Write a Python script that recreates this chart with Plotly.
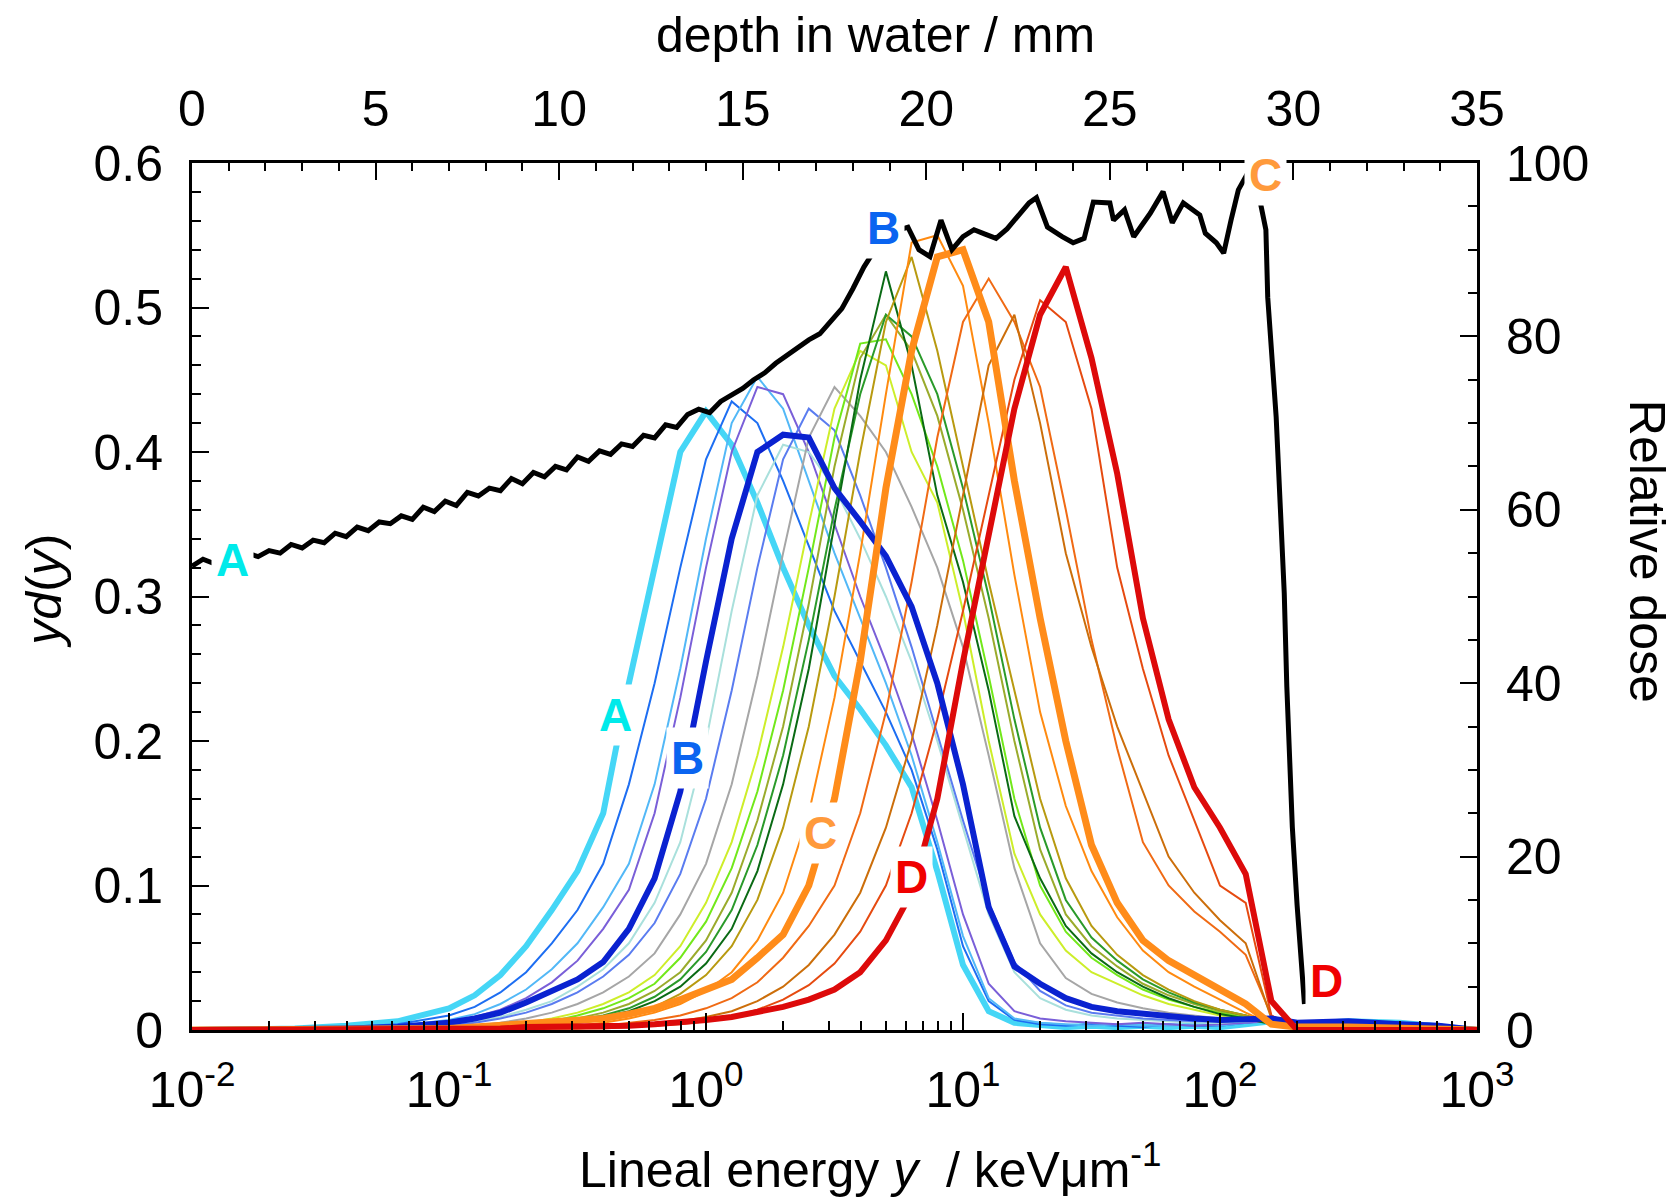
import math
import plotly.graph_objects as go

# ---------------- data ----------------
# lineal energy grid, log10(y / keV um^-1)
LOG_Y = [-2.0, -1.6, -1.4, -1.2,
         -1.0, -0.9, -0.8, -0.7, -0.6, -0.5, -0.4, -0.3, -0.2, -0.1, 0.0, 0.1, 0.2,
         0.3, 0.4, 0.5, 0.6, 0.7, 0.8, 0.9, 1.0, 1.1, 1.2, 1.3, 1.4, 1.5, 1.6, 1.7,
         1.8, 1.9, 2.0, 2.1, 2.2,
         2.3, 2.5, 2.7, 2.85, 3.0]

S_A = [0, 0.001, 0.003, 0.006,
       0.015, 0.024, 0.038, 0.058, 0.083, 0.11, 0.15, 0.24, 0.32, 0.40, 0.428, 0.405, 0.365,
       0.32, 0.28, 0.245, 0.222, 0.197, 0.168, 0.11, 0.045, 0.013, 0.005, 0.003, 0.002, 0.003, 0.002, 0.003,
       0.002, 0.003, 0.002, 0.004, 0.006,
       0.004, 0.006, 0.005, 0.003, 0]
S_02 = [0, 0.001, 0.002, 0.004,
        0.01, 0.016, 0.026, 0.04, 0.06, 0.083, 0.115, 0.17, 0.24, 0.32, 0.395, 0.435, 0.42,
        0.38, 0.335, 0.29, 0.255, 0.22, 0.18, 0.125, 0.058, 0.02, 0.007, 0.004, 0.003, 0.004, 0.003, 0.002,
        0.004, 0.003, 0.003, 0.005, 0.007,
        0.005, 0.006, 0.004, 0.003, 0]
S_03 = [0, 0.001, 0.002, 0.003,
        0.007, 0.011, 0.018, 0.028, 0.042, 0.06, 0.085, 0.115, 0.17, 0.25, 0.34, 0.42, 0.452,
        0.43, 0.38, 0.33, 0.285, 0.24, 0.19, 0.13, 0.065, 0.022, 0.008, 0.005, 0.004, 0.003, 0.004, 0.003,
        0.003, 0.004, 0.003, 0.005, 0.008,
        0.005, 0.007, 0.005, 0.004, 0]
S_04 = [0, 0.001, 0.002, 0.003,
        0.006, 0.009, 0.014, 0.022, 0.033, 0.048, 0.07, 0.097, 0.15, 0.23, 0.32, 0.40, 0.445,
        0.44, 0.40, 0.35, 0.30, 0.255, 0.205, 0.145, 0.08, 0.032, 0.013, 0.008, 0.006, 0.005, 0.004, 0.005,
        0.004, 0.003, 0.004, 0.005, 0.006,
        0.004, 0.005, 0.004, 0.003, 0]
S_B = [0, 0.0, 0.001, 0.002,
       0.005, 0.008, 0.012, 0.019, 0.027, 0.035, 0.047, 0.07, 0.105, 0.165, 0.255, 0.34, 0.40,
       0.412, 0.41, 0.375, 0.352, 0.328, 0.293, 0.24, 0.17, 0.085, 0.044, 0.032, 0.022, 0.016, 0.013, 0.011,
       0.009, 0.008, 0.007, 0.007, 0.008,
       0.005, 0.006, 0.004, 0.003, 0]
S_06 = [0, 0.0, 0.001, 0.002,
        0.004, 0.006, 0.009, 0.014, 0.02, 0.03, 0.042, 0.06, 0.088, 0.13, 0.2, 0.29, 0.37,
        0.405, 0.40, 0.375, 0.34, 0.30, 0.255, 0.2, 0.14, 0.08, 0.04, 0.022, 0.014, 0.01, 0.008, 0.007,
        0.006, 0.005, 0.005, 0.006, 0.007,
        0.004, 0.005, 0.004, 0.003, 0]
S_07 = [0, 0.0, 0.001, 0.002,
        0.003, 0.005, 0.008, 0.012, 0.018, 0.026, 0.037, 0.052, 0.074, 0.108, 0.16, 0.235, 0.32,
        0.395, 0.43, 0.415, 0.37, 0.32, 0.265, 0.205, 0.145, 0.088, 0.047, 0.027, 0.017, 0.012, 0.01, 0.008,
        0.007, 0.006, 0.006, 0.007, 0.008,
        0.005, 0.007, 0.005, 0.004, 0]
S_08 = [0, 0.0, 0.001, 0.001,
        0.002, 0.003, 0.005, 0.008, 0.012, 0.018, 0.026, 0.037, 0.053, 0.08, 0.115, 0.17, 0.245,
        0.33, 0.41, 0.445, 0.425, 0.40, 0.362, 0.32, 0.265, 0.19, 0.112, 0.06, 0.036, 0.025, 0.019, 0.015,
        0.012, 0.01, 0.008, 0.007, 0.006,
        0.004, 0.006, 0.004, 0.003, 0]
S_10 = [0, 0.0, 0.0, 0.001,
        0.001, 0.002, 0.003, 0.005, 0.008, 0.012, 0.018, 0.026, 0.038, 0.058, 0.088, 0.13, 0.19,
        0.265, 0.35, 0.43, 0.47, 0.46, 0.40, 0.365, 0.29, 0.20, 0.122, 0.08, 0.055, 0.04, 0.032, 0.024,
        0.018, 0.014, 0.01, 0.008, 0.005,
        0.003, 0.004, 0.003, 0.002, 0]
S_11 = [0, 0.0, 0.0, 0.001,
        0.001, 0.002, 0.003, 0.004, 0.006, 0.01, 0.015, 0.022, 0.032, 0.05, 0.075, 0.112, 0.165,
        0.235, 0.32, 0.41, 0.475, 0.478, 0.44, 0.39, 0.325, 0.245, 0.16, 0.10, 0.068, 0.05, 0.038, 0.028,
        0.021, 0.016, 0.012, 0.009, 0.005,
        0.003, 0.004, 0.003, 0.001, 0]
S_12 = [0, 0.0, 0.0, 0.0,
        0.001, 0.001, 0.002, 0.003, 0.005, 0.008, 0.012, 0.018, 0.027, 0.04, 0.062, 0.095, 0.145,
        0.21, 0.295, 0.39, 0.465, 0.495, 0.47, 0.425, 0.36, 0.285, 0.20, 0.125, 0.08, 0.058, 0.044, 0.032,
        0.024, 0.018, 0.013, 0.01, 0.005,
        0.003, 0.004, 0.002, 0.001, 0]
S_13 = [0, 0.0, 0.0, 0.0,
        0.001, 0.001, 0.002, 0.003, 0.004, 0.007, 0.01, 0.015, 0.023, 0.035, 0.054, 0.083, 0.128,
        0.19, 0.27, 0.36, 0.44, 0.495, 0.48, 0.44, 0.375, 0.30, 0.215, 0.14, 0.09, 0.064, 0.048, 0.035,
        0.026, 0.019, 0.014, 0.01, 0.005,
        0.003, 0.004, 0.002, 0.001, 0]
S_14 = [0, 0.0, 0.0, 0.0,
        0.001, 0.001, 0.002, 0.002, 0.004, 0.006, 0.009, 0.013, 0.02, 0.03, 0.046, 0.07, 0.11,
        0.17, 0.25, 0.35, 0.45, 0.525, 0.46, 0.37, 0.31, 0.235, 0.148, 0.105, 0.072, 0.053, 0.04, 0.03,
        0.022, 0.016, 0.011, 0.008, 0.004,
        0.003, 0.004, 0.002, 0.001, 0]
S_15 = [0, 0.0, 0.0, 0.0,
        0.0, 0.001, 0.001, 0.002, 0.003, 0.005, 0.007, 0.011, 0.016, 0.025, 0.038, 0.058, 0.09,
        0.14, 0.21, 0.30, 0.40, 0.49, 0.535, 0.47, 0.39, 0.31, 0.235, 0.16, 0.105, 0.072, 0.052, 0.038,
        0.028, 0.02, 0.014, 0.01, 0.005,
        0.002, 0.003, 0.002, 0.001, 0]
S_16 = [0, 0.0, 0.0, 0.0,
        0.0, 0.0, 0.001, 0.001, 0.002, 0.003, 0.005, 0.008, 0.012, 0.018, 0.027, 0.04, 0.062,
        0.095, 0.15, 0.23, 0.33, 0.44, 0.545, 0.55, 0.515, 0.42, 0.315, 0.22, 0.155, 0.11, 0.078, 0.055,
        0.04, 0.03, 0.021, 0.012, 0.004,
        0.002, 0.002, 0.001, 0.0, 0]
S_C = [0, 0.0, 0.0, 0.001,
       0.001, 0.002, 0.003, 0.004, 0.005, 0.006, 0.008, 0.011, 0.015, 0.021, 0.028, 0.035, 0.05,
       0.066, 0.10, 0.16, 0.255, 0.375, 0.47, 0.535, 0.54, 0.49, 0.38, 0.285, 0.20, 0.128, 0.088, 0.062,
       0.048, 0.038, 0.027, 0.018, 0.004,
       0.002, 0.002, 0.001, 0.0, 0]
S_18 = [0, 0.0, 0.0, 0.0,
        0.0, 0.0, 0.001, 0.001, 0.002, 0.002, 0.003, 0.005, 0.007, 0.01, 0.015, 0.022, 0.033,
        0.05, 0.072, 0.10, 0.15, 0.22, 0.31, 0.41, 0.49, 0.52, 0.49, 0.445, 0.36, 0.27, 0.195, 0.13,
        0.10, 0.082, 0.068, 0.052, 0.01,
        0.002, 0.002, 0.001, 0.0, 0]
S_20 = [0, 0.0, 0.0, 0.0,
        0.0, 0.0, 0.0, 0.001, 0.001, 0.001, 0.002, 0.003, 0.004, 0.006, 0.009, 0.013, 0.02,
        0.03, 0.045, 0.066, 0.095, 0.14, 0.20, 0.28, 0.37, 0.46, 0.495, 0.42, 0.33, 0.265, 0.21, 0.165,
        0.12, 0.095, 0.076, 0.06, 0.008,
        0.001, 0.001, 0.0, 0.0, 0]
S_21 = [0, 0.0, 0.0, 0.0,
        0.0, 0.0, 0.0, 0.0, 0.001, 0.001, 0.001, 0.002, 0.003, 0.004, 0.006, 0.009, 0.014,
        0.021, 0.031, 0.046, 0.068, 0.10, 0.15, 0.215, 0.29, 0.37, 0.45, 0.505, 0.49, 0.43, 0.32, 0.25,
        0.19, 0.145, 0.10, 0.088, 0.01,
        0.001, 0.001, 0.0, 0.0, 0]
S_D = [0, 0.0, 0.0, 0.001,
       0.001, 0.001, 0.001, 0.002, 0.002, 0.002, 0.002, 0.003, 0.004, 0.005, 0.007, 0.009, 0.012,
       0.016, 0.021, 0.028, 0.04, 0.062, 0.095, 0.16, 0.255, 0.345, 0.43, 0.495, 0.528, 0.465, 0.385, 0.285,
       0.215, 0.168, 0.14, 0.108, 0.02,
       0.0, 0.0, 0.0, 0.0, 0]

# depth-dose curve (top / right axes)
DEPTH_MM = [0.0, 0.3, 0.6, 0.9, 1.2, 1.5, 1.8, 2.1, 2.4, 2.7, 3.0, 3.3, 3.6, 3.9, 4.2, 4.5, 4.8,
            5.1, 5.4, 5.7, 6.0, 6.3, 6.6, 6.9, 7.2, 7.5, 7.8, 8.1, 8.4, 8.7, 9.0, 9.3, 9.6, 9.9,
            10.2, 10.5, 10.8, 11.1, 11.4, 11.7, 12.0, 12.3, 12.6, 12.9, 13.2, 13.5, 13.8, 14.1,
            14.4, 14.7, 15.0, 15.3, 15.6, 15.9, 16.2, 16.5, 16.8, 17.1, 17.4, 17.7, 18.0, 18.3,
            18.6, 18.9, 19.2, 19.5, 19.8, 20.1, 20.4, 20.7, 21.0, 21.3, 21.6, 21.9, 22.2, 22.5,
            22.8, 23.0, 23.3, 23.7, 24.0, 24.3, 24.55, 25.0, 25.1, 25.4, 25.65, 26.1, 26.45, 26.7,
            27.0, 27.45, 27.6, 27.9, 28.1, 28.3, 28.5, 28.75, 29.0, 29.25, 29.3, 29.53, 29.75,
            29.82, 29.97, 30.1, 30.24, 30.3]
REL_DOSE = [53.5, 54.3, 53.8, 54.6, 54.2, 55.0, 54.6, 55.3, 55.0, 56.0, 55.6, 56.5, 56.2, 57.3, 56.9,
            58.0, 57.6, 58.6, 58.4, 59.3, 58.9, 60.3, 59.8, 61.0, 60.5, 62.0, 61.6, 62.5, 62.2, 63.6,
            63.0, 64.3, 63.8, 65.0, 64.6, 66.1, 65.6, 66.8, 66.4, 67.6, 67.3, 68.6, 68.3, 69.8, 69.5,
            71.0, 71.6, 71.2, 72.5, 73.2, 74.0, 75.0, 75.8, 76.9, 77.8, 78.6, 79.6, 80.3, 81.8, 83.2,
            85.5, 88.0, 90.0, 91.5, 92.2, 92.6, 90.0, 89.2, 93.4, 90.0, 91.5, 92.3, 91.8, 91.3, 92.4,
            93.8, 95.4, 96.0, 92.6, 91.5, 90.8, 91.3, 95.5, 95.4, 93.4, 94.6, 91.5, 94.2, 96.7, 93.1,
            95.4, 94.0, 91.9, 90.8, 89.6, 93.4, 96.9, 98.8, 97.5, 92.3, 84.5, 70.7, 50.4, 39.6, 23.4,
            14.4, 5.4, 3.0]

# label positions
LABELS = ["A", "B", "C", "D"]
LABEL_COLORS = ["#00eaea", "#0a64f0", "#ff9a3c", "#f00000"]
SPEC_LABEL_Y = [0.446, 0.845, 2.79, 6.32]     # keV/um
SPEC_LABEL_V = [0.218, 0.188, 0.136, 0.106]   # yd(y)
DOSE_LABEL_DEPTH = [1.11, 18.83, 29.23, 30.89]
DOSE_LABEL_DOSE = [54.2, 92.5, 98.6, 5.7]

X_TICKS = [0.01, 0.1, 1, 10, 100, 1000]
X_TICKTEXT = ["10<sup>-2</sup>", "10<sup>-1</sup>", "10<sup>0</sup>",
              "10<sup>1</sup>", "10<sup>2</sup>", "10<sup>3</sup>"]
Y_TICKS = [0, 0.1, 0.2, 0.3, 0.4, 0.5, 0.6]
Y_TICKTEXT = ["0", "0.1", "0.2", "0.3", "0.4", "0.5", "0.6"]

# ---------------- figure ----------------
LINEAL = [10 ** v for v in LOG_Y]
FONT = "Liberation Sans, Arial, sans-serif"

series = [
    (S_A, "#45d6f6", 6),
    (S_02, "#1d6ef2", 2),
    (S_03, "#52b8f7", 2),
    (S_04, "#7a5fd8", 2),
    (S_06, "#a9e0dc", 2),
    (S_07, "#5a7cf0", 2),
    (S_08, "#a6a6a6", 2),
    (S_10, "#cdee2a", 2),
    (S_11, "#72e81a", 2),
    (S_12, "#9aab2c", 2),
    (S_13, "#2a9a2a", 2),
    (S_14, "#0a6a14", 2),
    (S_15, "#b89a10", 2),
    (S_16, "#ff8a10", 2),
    (S_18, "#f06a14", 2),
    (S_20, "#cc6e0a", 2),
    (S_21, "#e64a10", 2),
    (S_B, "#0a22d0", 6),
    (S_C, "#ff8c1a", 7),
    (S_D, "#dd0a0a", 6),
]

fig = go.Figure()
for vals, color, w in series:
    fig.add_trace(go.Scatter(x=LINEAL, y=vals, mode="lines", xaxis="x", yaxis="y",
                             line=dict(color=color, width=w), hoverinfo="skip"))

fig.add_trace(go.Scatter(x=DEPTH_MM, y=REL_DOSE, mode="lines", xaxis="x2", yaxis="y2",
                         line=dict(color="black", width=5), hoverinfo="skip"))

tickfont = dict(family=FONT, size=50, color="black")
minor_log = []
for d in range(-2, 3):
    for k in range(2, 10):
        minor_log.append(k * 10 ** d)

common = dict(showline=True, linecolor="black", linewidth=3, showgrid=False, zeroline=False,
              ticks="inside", tickcolor="black", tickwidth=2, ticklen=17, tickfont=tickfont)

fig.update_layout(
    width=1674, height=1201, autosize=False,
    margin=dict(l=192, r=197, t=163, b=171),
    paper_bgcolor="white", plot_bgcolor="white",
    showlegend=False,
    xaxis=dict(type="log", range=[-2, 3], tickmode="array", tickvals=X_TICKS, ticktext=X_TICKTEXT,
               ticklabelstandoff=14,
               minor=dict(tickmode="array", tickvals=minor_log, ticks="inside", ticklen=9,
                          tickwidth=1.5, tickcolor="black", showgrid=False),
               **common),
    yaxis=dict(range=[0, 0.6], tickmode="array", tickvals=Y_TICKS, ticktext=Y_TICKTEXT,
               ticklabelstandoff=16,
               minor=dict(tickmode="linear", tick0=0, dtick=0.02, ticks="inside", ticklen=9,
                          tickwidth=1.5, tickcolor="black", showgrid=False),
               **common),
    xaxis2=dict(overlaying="x", side="top", anchor="y", range=[0, 35], tickmode="linear", tick0=0, dtick=5,
                ticklabelstandoff=14,
                minor=dict(tickmode="linear", tick0=0, dtick=1, ticks="inside", ticklen=8,
                           tickwidth=1.5, tickcolor="black", showgrid=False),
                **common),
    yaxis2=dict(overlaying="y", side="right", anchor="x", range=[0, 100], tickmode="linear", tick0=0, dtick=20,
                ticklabelstandoff=16,
                minor=dict(tickmode="linear", tick0=0, dtick=5, ticks="inside", ticklen=9,
                           tickwidth=1.5, tickcolor="black", showgrid=False),
                **common),
)

ann = []
for i, lab in enumerate(LABELS):
    ann.append(dict(x=math.log10(SPEC_LABEL_Y[i]), y=SPEC_LABEL_V[i], xref="x", yref="y",
                    text="<b>%s</b>" % lab, showarrow=False, bgcolor="white", borderpad=4,
                    font=dict(family=FONT, size=46, color=LABEL_COLORS[i]),
                    xanchor="center", yanchor="middle"))
    ann.append(dict(x=DOSE_LABEL_DEPTH[i], y=DOSE_LABEL_DOSE[i], xref="x2", yref="y2",
                    text="<b>%s</b>" % lab, showarrow=False, bgcolor="white", borderpad=4,
                    font=dict(family=FONT, size=46, color=LABEL_COLORS[i]),
                    xanchor="center", yanchor="middle"))

title_font = dict(family=FONT, size=50, color="black")
ann.append(dict(x=0.528, y=-0.157, xref="paper", yref="paper", showarrow=False,
                text="Lineal energy <i>y</i>  / keV\u03bcm<sup>-1</sup>", font=title_font,
                xanchor="center", yanchor="middle"))
ann.append(dict(x=0.532, y=1.148, xref="paper", yref="paper", showarrow=False,
                text="depth in water / mm", font=title_font, xanchor="center", yanchor="middle"))
ann.append(dict(x=-0.115, y=0.507, xref="paper", yref="paper", showarrow=False,
                text="<i>yd</i>(<i>y</i>)", font=title_font, textangle=-90,
                xanchor="center", yanchor="middle"))
ann.append(dict(x=1.132, y=0.552, xref="paper", yref="paper", showarrow=False,
                text="Relative dose", font=title_font, textangle=90,
                xanchor="center", yanchor="middle"))
fig.update_layout(annotations=ann)

fig.write_html("out.html")
